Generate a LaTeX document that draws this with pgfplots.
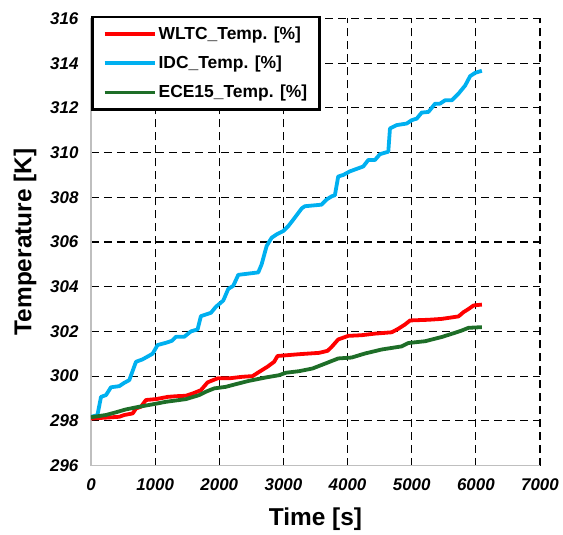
\documentclass[border=0pt]{standalone}
\usepackage{pgfplots}
\pgfplotsset{compat=1.18}
\usepackage{fontspec}
\setmainfont{Liberation Sans}

\definecolor{wltc}{RGB}{255,0,0}
\definecolor{idc}{RGB}{0,176,240}
\definecolor{ece}{RGB}{30,110,40}

\begin{document}
\begin{tikzpicture}
\begin{axis}[
    scale only axis,
    width=449bp, height=447bp,
    xmin=0, xmax=7000, ymin=296, ymax=316,
    xtick={0,1000,...,7000},
    ytick={296,298,...,316},
    axis x line*=bottom, axis y line*=left,
    axis line style={draw=gray!50, line width=1.2bp, -},
    major tick length=0pt,
    grid=major,
    grid style={black, line width=1.1bp, dash pattern=on 8bp off 5bp},
    xticklabel={\textbf{\textit{\pgfmathprintnumber[1000 sep={},assume math mode=true]{\tick}}}},
    yticklabel={\textbf{\textit{\pgfmathprintnumber[assume math mode=true]{\tick}}}},
    ticklabel style={font=\fontsize{17}{19}\selectfont},
    xticklabel style={yshift=-10bp},
    yticklabel style={xshift=-9bp},
    xlabel={Time [s]},
    ylabel={Temperature [K]},
    label style={font=\fontsize{24.5}{27}\selectfont\bfseries},
    xlabel style={at={(axis description cs:0.5,-0.1208)}, anchor=center},
    ylabel style={at={(axis description cs:-0.147,0.5)}, anchor=center, rotate=0},
    legend style={at={(0,1)}, anchor=north west, xshift=0.5bp, yshift=2.7bp,
      draw=black, line width=2.7bp, fill=white,
      font=\fontsize{17.5}{20}\selectfont\bfseries,
      row sep=11bp, inner xsep=10bp, inner ysep=8bp},
    legend cell align=left,
    legend image code/.code={\draw[#1] (0bp,0bp) -- (50bp,0bp);},
    every axis plot/.append style={line width=3.8bp, line join=round},
]
\addplot[color=wltc] coordinates {
(0,298.1) (441,298.18) (519,298.26) (650,298.33) (701,298.55) (779,298.63)
(857,298.93) (1012,298.97) (1195,299.07) (1324,299.1) (1480,299.12) (1584,299.22)
(1713,299.37) (1818,299.72) (1974,299.9) (2154,299.9) (2363,299.97) (2519,300.0)
(2622,300.19) (2752,300.42) (2855,300.64) (2908,300.9) (3245,300.98) (3556,301.04)
(3687,301.13) (3750,301.3) (3854,301.64) (4010,301.8) (4219,301.83) (4427,301.9)
(4688,301.96) (4792,302.12) (4896,302.31) (4974,302.49) (5261,302.52) (5469,302.56)
(5729,302.67) (5807,302.86) (5885,303.0) (5964,303.16) (6094,303.2)
};
\addlegendentry{WLTC\_Temp. [\%]}
\addplot[color=idc] coordinates {
(0,298.18) (100,298.25) (156,299.07) (234,299.15) (311,299.5) (441,299.55)
(519,299.7) (597,299.82) (701,300.64) (805,300.75) (960,301.0) (1038,301.39)
(1168,301.49) (1262,301.58) (1324,301.76) (1454,301.76) (1558,302.0) (1662,302.09)
(1713,302.68) (1869,302.83) (1947,303.1) (2062,303.38) (2140,303.9) (2218,304.04)
(2296,304.53) (2608,304.64) (2660,305.0) (2738,305.82) (2816,306.19) (2894,306.34)
(2998,306.49) (3076,306.71) (3154,307.0) (3284,307.5) (3333,307.6) (3594,307.67)
(3672,307.9) (3750,308.04) (3802,308.09) (3854,308.93) (3932,309.0) (4036,309.16)
(4245,309.38) (4323,309.67) (4427,309.67) (4505,309.93) (4635,310.04) (4661,311.08)
(4766,311.23) (4922,311.3) (5000,311.45) (5078,311.52) (5156,311.79) (5261,311.82)
(5364,312.19) (5442,312.19) (5520,312.34) (5625,312.34) (5730,312.64) (5833,313.0)
(5911,313.42) (5989,313.57) (6094,313.66)
};
\addlegendentry{IDC\_Temp. [\%]}
\addplot[color=ece] coordinates {
(0,298.16) (234,298.26) (389,298.38) (545,298.51) (753,298.63) (986,298.75)
(1168,298.85) (1480,298.97) (1687,299.15) (1791,299.3) (1921,299.45) (2103,299.52)
(2259,299.64) (2466,299.79) (2726,299.94) (2933,300.04) (3037,300.15) (3245,300.22)
(3453,300.34) (3660,300.57) (3854,300.79) (4063,300.83) (4270,301.01) (4531,301.19)
(4844,301.33) (4948,301.48) (5208,301.56) (5469,301.75) (5677,301.94) (5781,302.04)
(5885,302.16) (6094,302.19)
};
\addlegendentry{ECE15\_Temp. [\%]}
\end{axis}
\pgfresetboundingbox
\path (current axis.south west) ++(-91bp,-69.5bp) rectangle ++(563bp,535bp);
\end{tikzpicture}
\end{document}
